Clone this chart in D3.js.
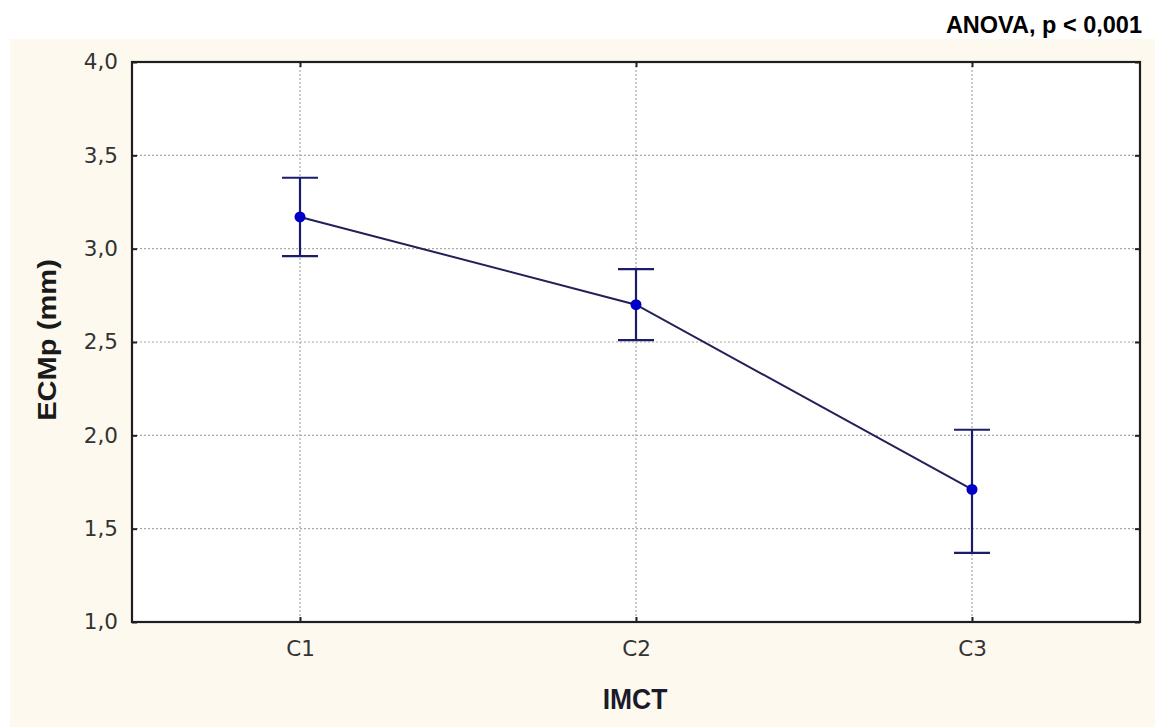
<!DOCTYPE html>
<html>
<head>
<meta charset="utf-8">
<script src="https://cdn.jsdelivr.net/npm/d3@7"></script>
<style>
  html, body { margin: 0; padding: 0; background: #ffffff; }
  svg { display: block; font-family: "Liberation Sans", Arial, sans-serif; }
</style>
</head>
<body>
<svg id="chart" width="1155" height="727"></svg>
<script>
// ---- data ----
const categories = ["C1", "C2", "C3"];
const means = [3.17, 2.70, 1.71];
const upper = [3.38, 2.89, 2.03];
const lower = [2.96, 2.51, 1.37];
const yTicks = [1.0, 1.5, 2.0, 2.5, 3.0, 3.5, 4.0];
const yTitle = "ECMp (mm)";
const xTitle = "IMCT";
const note = "ANOVA, p < 0,001";

// ---- layout ----
const W = 1155, H = 727;
const plot = { left: 132, right: 1140, top: 62, bottom: 622 };

const svg = d3.select("#chart");

// cream panel
svg.append("rect").attr("x", 10).attr("y", 39).attr("width", W - 10).attr("height", H - 39)
  .attr("fill", "#fdf9ee");

// plot area
svg.append("rect").attr("x", plot.left).attr("y", plot.top)
  .attr("width", plot.right - plot.left).attr("height", plot.bottom - plot.top)
  .attr("fill", "#ffffff");

const x = d3.scalePoint().domain(categories).range([plot.left, plot.right]).padding(0.5);
const y = d3.scaleLinear().domain([1, 4]).range([plot.bottom, plot.top]);

// grid
const grid = svg.append("g");
grid.selectAll(".hg").data(yTicks.filter(t => t > 1 && t < 4)).join("line")
  .attr("x1", plot.left).attr("x2", plot.right)
  .attr("y1", d => y(d)).attr("y2", d => y(d))
  .attr("stroke", "#a8a8a8").attr("stroke-width", 1.2).attr("stroke-dasharray", "2,2");
grid.selectAll(".vg").data(categories).join("line")
  .attr("x1", d => x(d)).attr("x2", d => x(d))
  .attr("y1", plot.top).attr("y2", plot.bottom)
  .attr("stroke", "#a8a8a8").attr("stroke-width", 1.2).attr("stroke-dasharray", "2,2");

// axes (ticks inside)
const fmt = d => d.toFixed(1).replace(".", ",");
const yAxisL = svg.append("g").attr("transform", `translate(${plot.left},0)`)
  .call(d3.axisLeft(y).tickValues(yTicks).tickSize(-5).tickPadding(14).tickFormat(fmt));
const yAxisR = svg.append("g").attr("transform", `translate(${plot.right},0)`)
  .call(d3.axisRight(y).tickValues(yTicks).tickSize(-5).tickFormat(""));
const xAxisB = svg.append("g").attr("transform", `translate(0,${plot.bottom})`)
  .call(d3.axisBottom(x).tickSize(-5).tickPadding(19));
const xAxisT = svg.append("g").attr("transform", `translate(0,${plot.top})`)
  .call(d3.axisTop(x).tickSize(-5).tickFormat(""));

[yAxisL, yAxisR, xAxisB, xAxisT].forEach(g => {
  g.select(".domain").remove();
  g.selectAll(".tick line").attr("stroke", "#222").attr("stroke-width", 2);
  g.selectAll(".tick text").attr("fill", "#333").attr("font-size", 21.5)
    .attr("font-family", "DejaVu Sans, Liberation Sans, Arial, sans-serif");
});
xAxisB.selectAll(".tick text").attr("dy", "0.71em");

// frame
svg.append("rect").attr("x", plot.left).attr("y", plot.top)
  .attr("width", plot.right - plot.left).attr("height", plot.bottom - plot.top)
  .attr("fill", "none").attr("stroke", "#1e1e1e").attr("stroke-width", 2.2);

// connecting line
const pts = categories.map((c, i) => ({ c, m: means[i], hi: upper[i], lo: lower[i] }));
svg.append("path").datum(pts)
  .attr("d", d3.line().x(d => x(d.c)).y(d => y(d.m)))
  .attr("fill", "none").attr("stroke", "#222058").attr("stroke-width", 2);

// error bars
const eb = svg.append("g").attr("stroke", "#1c1c6e").attr("stroke-width", 2.2);
const capW = 18;
eb.selectAll(".v").data(pts).join("line")
  .attr("x1", d => x(d.c)).attr("x2", d => x(d.c))
  .attr("y1", d => y(d.hi)).attr("y2", d => y(d.lo));
eb.selectAll(".ct").data(pts).join("line")
  .attr("x1", d => x(d.c) - capW).attr("x2", d => x(d.c) + capW)
  .attr("y1", d => y(d.hi)).attr("y2", d => y(d.hi));
eb.selectAll(".cb").data(pts).join("line")
  .attr("x1", d => x(d.c) - capW).attr("x2", d => x(d.c) + capW)
  .attr("y1", d => y(d.lo)).attr("y2", d => y(d.lo));

// points
svg.selectAll(".pt").data(pts).join("circle")
  .attr("cx", d => x(d.c)).attr("cy", d => y(d.m)).attr("r", 5.5)
  .attr("fill", "#0000c8");

// titles
svg.append("text")
  .attr("transform", `translate(56,340) rotate(-90) scale(1.12,1)`)
  .attr("text-anchor", "middle").attr("font-weight", "bold").attr("font-size", 26)
  .attr("fill", "#1a1a1a").text(yTitle);
svg.append("text")
  .attr("transform", `translate(635,709) scale(1.0,1.12)`)
  .attr("text-anchor", "middle").attr("font-weight", "bold").attr("font-size", 26.5)
  .attr("fill", "#1a1a2a").text(xTitle);
svg.append("text")
  .attr("x", 1142).attr("y", 33)
  .attr("text-anchor", "end").attr("font-weight", "bold").attr("font-size", 23.5)
  .attr("fill", "#000").text(note);
</script>
</body>
</html>
